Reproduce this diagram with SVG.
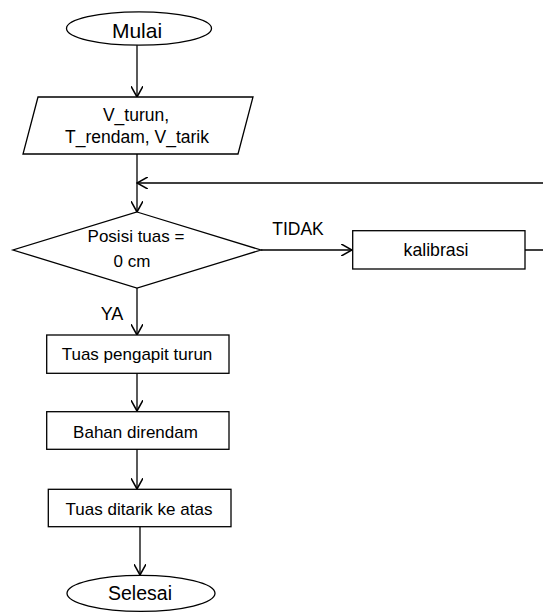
<svg xmlns="http://www.w3.org/2000/svg" width="543" height="613" viewBox="0 0 543 613">
<style>
.s{fill:#fff;stroke:#000;stroke-width:1.3}
.c{fill:none;stroke:#000;stroke-width:1.3}
.t{font-family:"Liberation Sans",Arial,sans-serif;font-size:17px;fill:#000;text-anchor:middle}
</style>
<defs>
<marker id="a" markerUnits="userSpaceOnUse" markerWidth="12" markerHeight="12" refX="9" refY="5" orient="auto" viewBox="0 0 10 10">
<path d="M0,0 L9,5 L0,10" fill="none" stroke="#000" stroke-width="1.3"/>
</marker>
</defs>
<rect width="543" height="613" fill="#fff"/>
<g id="connectors">
<line class="c" x1="137" y1="45" x2="137" y2="97" marker-end="url(#a)"/>
<line class="c" x1="137" y1="154" x2="137" y2="212" marker-end="url(#a)"/>
<line class="c" x1="261" y1="250" x2="352" y2="250" marker-end="url(#a)"/>
<polyline class="c" points="525,250 560,250 560,183 137,183" marker-end="url(#a)"/>
<line class="c" x1="137" y1="288" x2="137" y2="335" marker-end="url(#a)"/>
<line class="c" x1="137" y1="373" x2="137" y2="411" marker-end="url(#a)"/>
<line class="c" x1="137" y1="449" x2="137" y2="489" marker-end="url(#a)"/>
<line class="c" x1="140" y1="527" x2="140" y2="575" marker-end="url(#a)"/>
<text class="t" x="298" y="235" style="font-size:17.5px">TIDAK</text>
<text class="t" x="112" y="320" style="font-size:18px">YA</text>
</g>
<g id="mulai">
<ellipse class="s" cx="139" cy="28.5" rx="72.5" ry="16.7"/>
<text class="t" x="137" y="38" style="font-size:21px">Mulai</text>
</g>
<g id="input">
<polygon class="s" points="38,97 253,97 238,154 23,154"/>
<text class="t" x="136" y="121" style="font-size:17.5px">V_turun,</text>
<text class="t" x="137" y="143" style="font-size:17.5px">T_rendam, V_tarik</text>
</g>
<g id="decision">
<polygon class="s" points="137,212 261,250 137,288 13,250"/>
<text class="t" x="136" y="241.5">Posisi tuas =</text>
<text class="t" x="132" y="266.5">0 cm</text>
</g>
<g id="kalibrasi">
<rect class="s" x="352.7" y="230.7" width="172.3" height="38.3"/>
<text class="t" x="436" y="256" style="font-size:17.7px">kalibrasi</text>
</g>
<g id="turun">
<rect class="s" x="46.7" y="335" width="182.3" height="38.3"/>
<text class="t" x="137" y="360">Tuas pengapit turun</text>
</g>
<g id="rendam">
<rect class="s" x="46.7" y="411.7" width="182.3" height="37.6"/>
<text class="t" x="135.5" y="438">Bahan direndam</text>
</g>
<g id="tarik">
<rect class="s" x="48.3" y="489.3" width="182.7" height="37.4"/>
<text class="t" x="139" y="515">Tuas ditarik ke atas</text>
</g>
<g id="selesai">
<ellipse class="s" cx="141" cy="593.3" rx="74" ry="18"/>
<text class="t" x="140" y="600" style="font-size:19.5px">Selesai</text>
</g>
</svg>
